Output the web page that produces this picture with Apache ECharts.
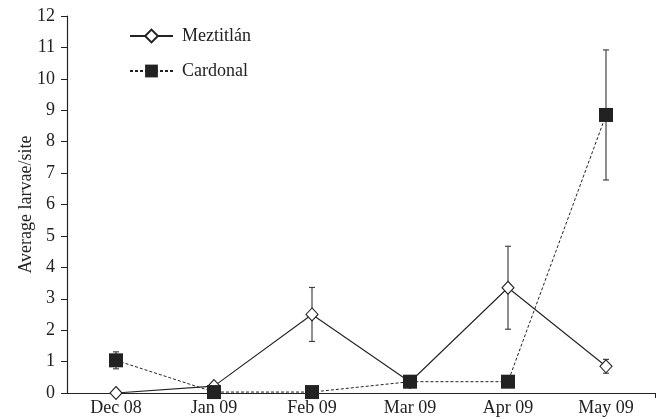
<!DOCTYPE html>
<html><head><meta charset="utf-8">
<script src="https://cdn.jsdelivr.net/npm/echarts@6/dist/echarts.min.js"></script>
<style>html,body{margin:0;padding:0;background:#fff}#c{width:658px;height:419px}</style>
</head><body><div id="c"></div>
<script>
const categories = ['Dec 08','Jan 09','Feb 09','Mar 09','Apr 09','May 09'];
const meztitlan = [0, 0.22, 2.5, 0.35, 3.35, 0.85];
const meztitlanErr = [0, 0, 0.86, 0, 1.32, 0.22];
const cardonal = [1.04, 0.03, 0.03, 0.36, 0.36, 8.85];
const cardonalErr = [0.27, 0, 0, 0, 0, 2.07];
const yTicks = [0,1,2,3,4,5,6,7,8,9,10,11,12];

const FONT = 'Liberation Serif';
function errData(vals, errs){
  const out = [];
  vals.forEach((v,i)=>{ if(errs[i]>0) out.push([i, v-errs[i], v+errs[i]]); });
  return out;
}
function errSeries(data){
  return {
    type:'custom', z:1, silent:true,
    renderItem:function(params, api){
      const x = api.value(0);
      const lo = api.coord([x, api.value(1)]);
      const hi = api.coord([x, api.value(2)]);
      const w = 3;
      const st = {stroke:'#444', lineWidth:1.2};
      return {type:'group', children:[
        {type:'line', shape:{x1:lo[0],y1:lo[1],x2:hi[0],y2:hi[1]}, style:st},
        {type:'line', shape:{x1:lo[0]-w,y1:lo[1],x2:lo[0]+w,y2:lo[1]}, style:st},
        {type:'line', shape:{x1:hi[0]-w,y1:hi[1],x2:hi[0]+w,y2:hi[1]}, style:st}
      ]};
    },
    encode:{x:0, y:[1,2]},
    data:data
  };
}
const chart = echarts.init(document.getElementById('c'), null, {renderer:'canvas'});
chart.setOption({
  animation:false,
  backgroundColor:'#fff',
  textStyle:{fontFamily:FONT},
  grid:{left:67, right:3, top:16, bottom:26, containLabel:false},
  legend:{
    left:124, top:22, orient:'vertical', itemGap:17, itemWidth:43, itemHeight:16,
    data:['Meztitlán','Cardonal'],
    textStyle:{fontFamily:FONT, fontSize:18, color:'#222', padding:[0,0,0,4]}
  },
  xAxis:[{
    type:'category', data:categories, boundaryGap:true,
    axisLine:{lineStyle:{color:'#222', width:1.2}},
    axisTick:{alignWithLabel:true, length:5, lineStyle:{color:'#222'}},
    axisLabel:{fontFamily:FONT, fontSize:18, color:'#222', margin:6, interval:0},
    splitLine:{show:false}
  },{
    type:'value', min:0, max:1, interval:1, position:'bottom',
    axisLine:{show:false}, axisLabel:{show:false}, splitLine:{show:false},
    axisTick:{show:true, length:5, customValues:[1], lineStyle:{color:'#222'}}
  }],
  yAxis:{
    type:'value', min:0, max:12, interval:1,
    name:'Average larvae/site', nameLocation:'middle', nameGap:32, nameMoveOverlap:false,
    nameTextStyle:{fontFamily:FONT, fontSize:18, color:'#222'},
    axisLine:{show:true, lineStyle:{color:'#222', width:1.2}},
    axisTick:{show:true, length:6, lineStyle:{color:'#222'}},
    axisLabel:{fontFamily:FONT, fontSize:18, color:'#222', margin:12,
      formatter:function(v){ return yTicks.indexOf(v)>=0 ? String(v) : ''; }},
    splitLine:{show:false}
  },
  series:[
    errSeries(errData(meztitlan, meztitlanErr)),
    errSeries(errData(cardonal, cardonalErr)),
    {
      name:'Meztitlán', type:'line', data:meztitlan, z:3,
      symbol:'diamond', symbolSize:[12,13],
      lineStyle:{color:'#222', width:1.1, type:'solid'},
      itemStyle:{color:'#fff', borderColor:'#222', borderWidth:1.1}
    },
    {
      name:'Cardonal', type:'line', data:cardonal, z:4,
      symbol:'rect', symbolSize:14,
      lineStyle:{color:'#222', width:1, type:[3,2]},
      itemStyle:{color:'#222', borderColor:'#222', borderWidth:0}
    }
  ]
});
</script></body></html>
